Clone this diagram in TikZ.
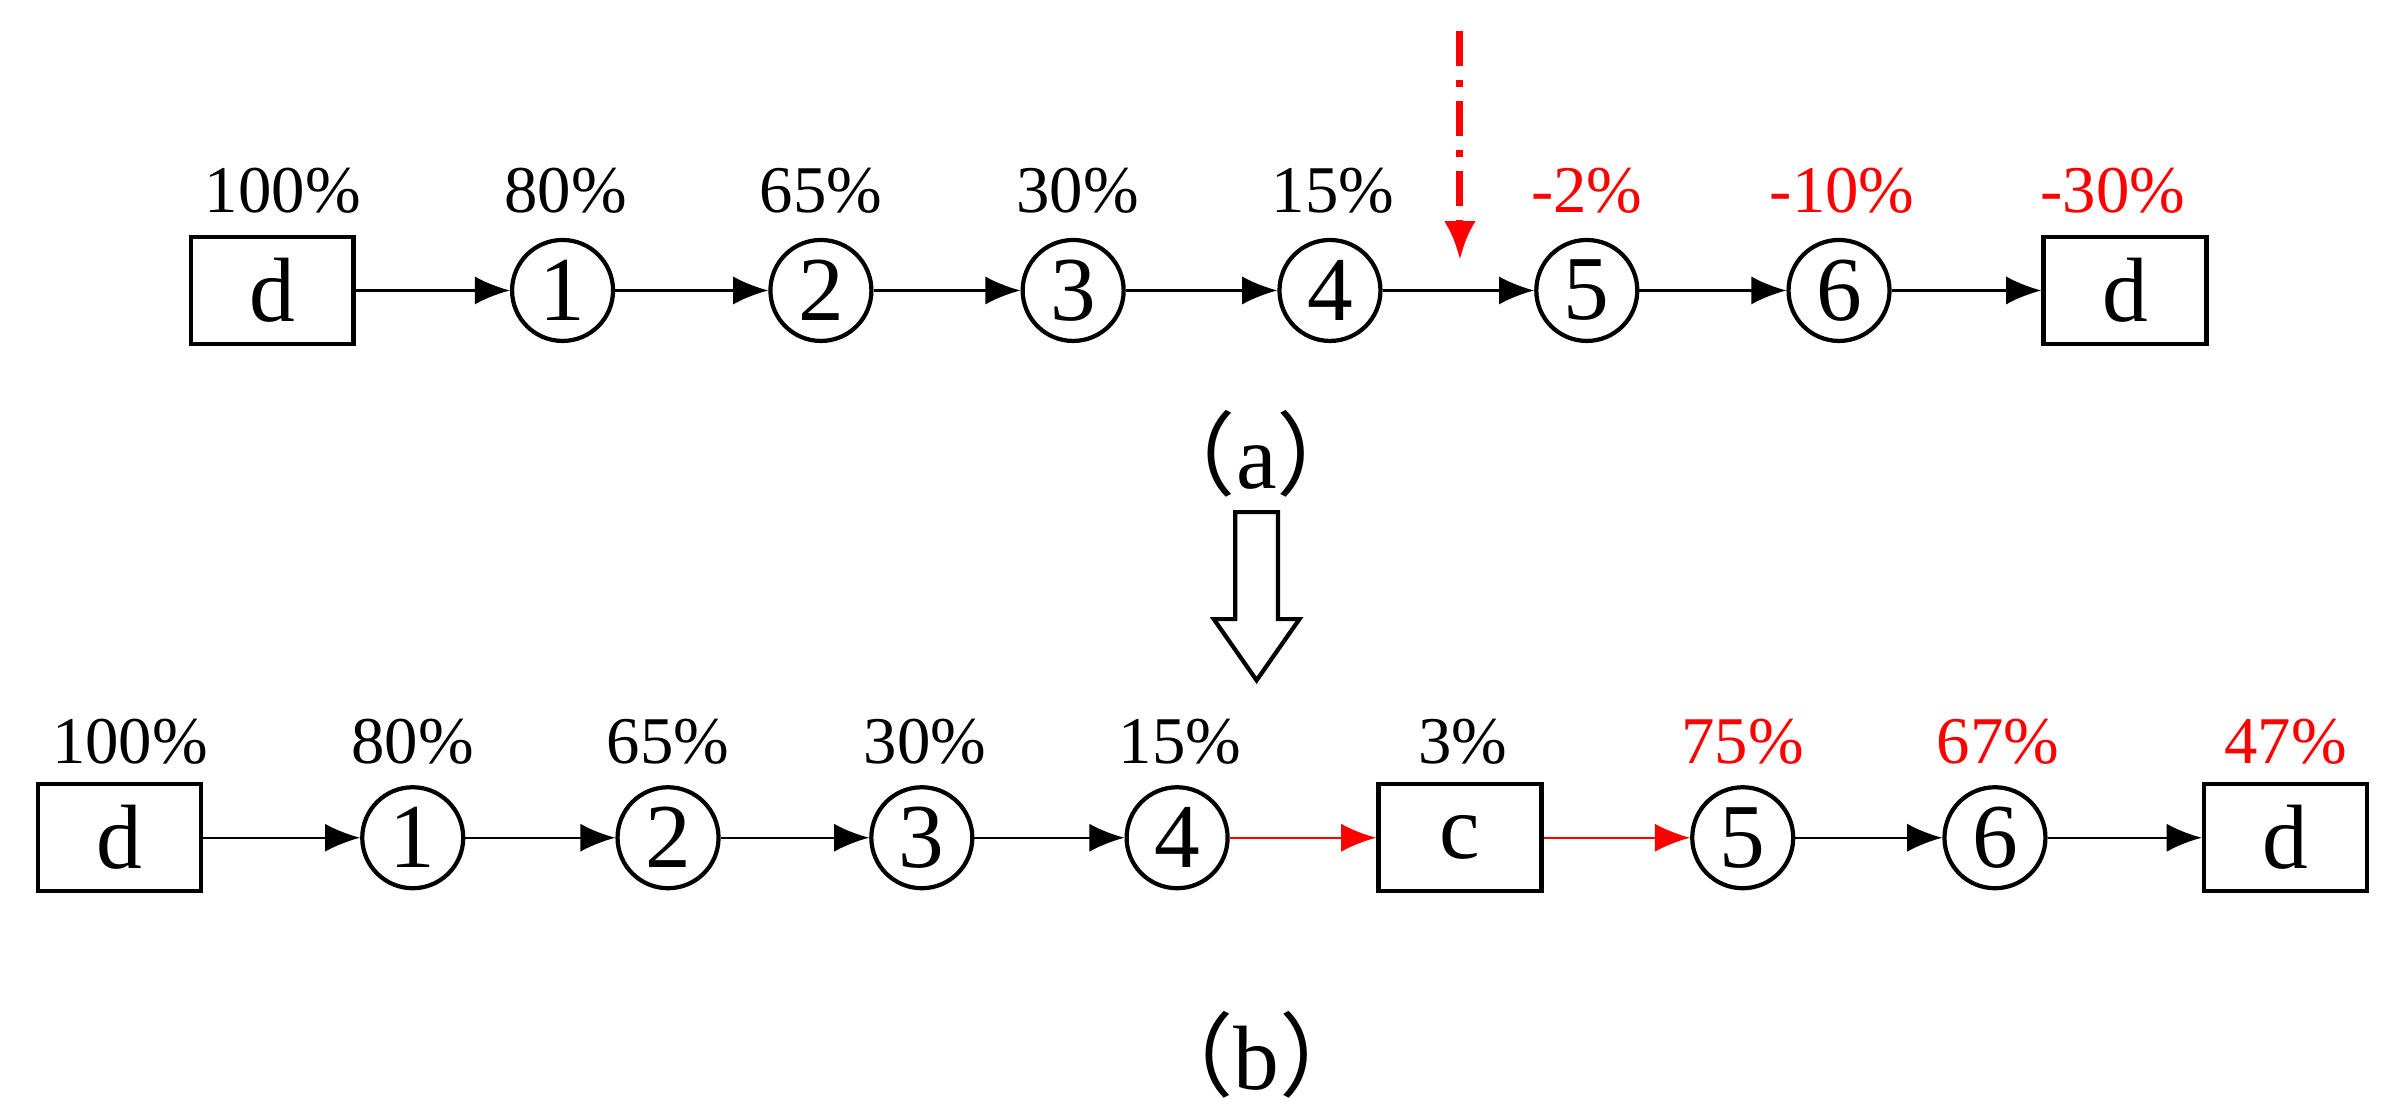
\documentclass[tikz,border=0pt]{standalone}
\usepackage{fontspec}
\setmainfont{Liberation Serif}
\newfontfamily\cjk{Noto Sans CJK SC}
\usetikzlibrary{arrows.meta}
\begin{document}
\begin{tikzpicture}[x=0.01529cm,y=-0.01529cm,
 bx/.style={draw,line width=1.2pt,minimum width=1.63cm,minimum height=1.07cm,inner sep=0pt,font=\fontsize{26}{26}\selectfont},
 cr/.style={draw,circle,line width=1.2pt,minimum size=1.01cm,inner sep=0pt,font=\fontsize{26}{26}\selectfont},
 lb/.style={font=\fontsize{19}{19}\selectfont},
 rl/.style={lb,text=red},
 ar/.style={-{Latex[length=10pt,width=8pt]},line width=0.7pt},
 rar/.style={ar,red}]
\useasboundingbox (0,0) rectangle (1568,723);
% row a
\node[bx] (ad0) at (178,190) {d};
\node[cr] (a1) at (368,190) {1};
\node[cr] (a2) at (537,190) {2};
\node[cr] (a3) at (702,190) {3};
\node[cr] (a4) at (870,190) {4};
\node[cr] (a5) at (1038,190) {5};
\node[cr] (a6) at (1203,190) {6};
\node[bx] (ad1) at (1390,190) {d};
\foreach \a/\b in {ad0/a1,a1/a2,a2/a3,a3/a4,a4/a5,a5/a6,a6/ad1} \draw[ar] (\a) -- (\b);
\node[lb] (la0) at (185,125) {100\%};
\node[lb] (la1) at (370,125) {80\%};
\node[lb] (la2) at (537,125) {65\%};
\node[lb] (la3) at (705,125) {30\%};
\node[lb] (la4) at (872,125) {15\%};
\node[rl] (la5) at (1038,125) {-2\%};
\node[rl] (la6) at (1205,125) {-10\%};
\node[rl] (la7) at (1382,125) {-30\%};
\coordinate (rs) at (955,20); \coordinate (re) at (955,170);
\draw[red,line width=2pt,dash pattern=on 10pt off 4pt on 2pt off 4pt,-{Latex[length=11pt,width=9pt]}] (rs) -- (re);
\node[font=\fontsize{26}{26}\selectfont] (ca) at (822,297) {{\cjk （}a{\cjk ）}};
\coordinate (big) at (822,335);
\draw[line width=1.2pt,fill=white] (big) ++(-14,0) -- ++(0,70) -- ++(-14,0) -- (822,445) -- (850,405) -- ++(-14,0) -- ++(0,-70) -- cycle;
% row b
\node[bx] (bd0) at (78,548) {d};
\node[cr] (b1) at (270,548) {1};
\node[cr] (b2) at (437,548) {2};
\node[cr] (b3) at (603,548) {3};
\node[cr] (b4) at (770,548) {4};
\node[bx] (bc) at (955,548) {c};
\node[cr] (b5) at (1140,548) {5};
\node[cr] (b6) at (1305,548) {6};
\node[bx] (bd1) at (1495,548) {d};
\foreach \a/\b in {bd0/b1,b1/b2,b2/b3,b3/b4,b5/b6,b6/bd1} \draw[ar] (\a) -- (\b);
\draw[rar] (b4) -- (bc);
\draw[rar] (bc) -- (b5);
\node[lb] (lb0) at (85,485) {100\%};
\node[lb] (lb1) at (270,485) {80\%};
\node[lb] (lb2) at (437,485) {65\%};
\node[lb] (lb3) at (605,485) {30\%};
\node[lb] (lb4) at (772,485) {15\%};
\node[lb] (lb5) at (957,485) {3\%};
\node[rl] (lb6) at (1140,485) {75\%};
\node[rl] (lb7) at (1307,485) {67\%};
\node[rl] (lb8) at (1495,485) {47\%};
\node[font=\fontsize{26}{26}\selectfont] (cb) at (822,690) {{\cjk （}b{\cjk ）}};
\end{tikzpicture}
\end{document}
